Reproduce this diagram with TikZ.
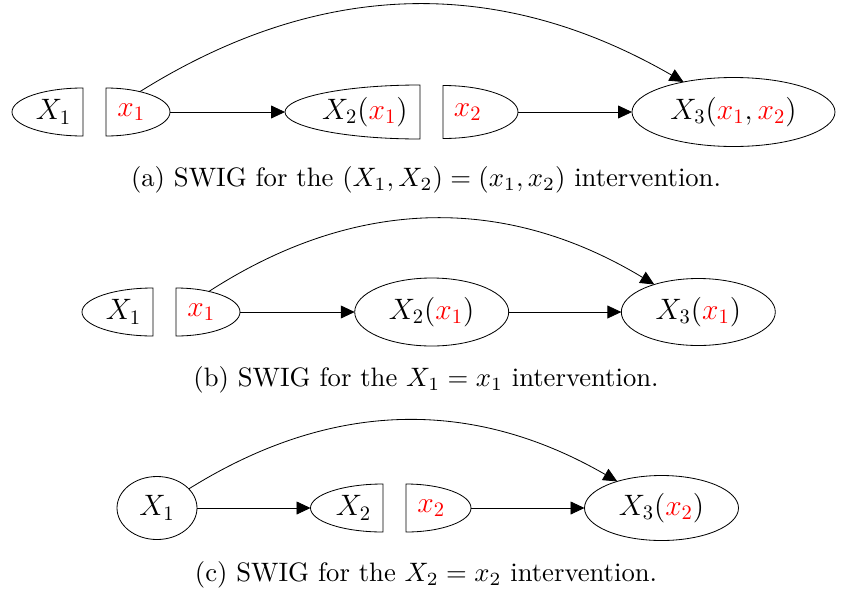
\documentclass[tikz,border=0pt]{standalone}
\usepackage{graphicx}
\usetikzlibrary{shapes.geometric,arrows.meta,calc}
\newcommand{\pxu}{0.4878pt}
% outline of a split node: half ellipse closed by the vertical cut
\newcommand{\cupleft}[1]{\draw let \p1=(#1.north), \p2=(#1.west), \p3=(#1.center) in
  (\p1) arc[start angle=90, end angle=270, x radius={\x3-\x2}, y radius={\y1-\y3}] -- cycle;}
\newcommand{\cupright}[1]{\draw let \p1=(#1.south), \p2=(#1.east), \p3=(#1.center) in
  (\p1) arc[start angle=-90, end angle=90, x radius={\x2-\x3}, y radius={\y3-\y1}] -- cycle;}
\newcommand{\captxt}[1]{\scalebox{1.3}{#1}}
\tikzset{
  varfont/.style={font=\fontsize{14.8}{17}\selectfont},
  full/.style={draw, ellipse, inner sep=0pt, outer sep=0pt, varfont},
  half/.style={ellipse, inner sep=0pt, outer sep=0pt},
  lefttxt/.style={varfont, inner sep=0pt, anchor=east},
  righttxt/.style={varfont, inner sep=0pt, anchor=west},
  arr/.style={-{Triangle[length=6.8pt,width=6.3pt]}},
  capt/.style={anchor=base, inner sep=0pt}
}
\begin{document}
\begin{tikzpicture}[x=\pxu, y=-\pxu]
\useasboundingbox (0,0) rectangle (841,591);

% (a) X1 = x1 and X2 = x2
\node[half, minimum width={142*\pxu}, minimum height={48*\pxu}] (Xa1) at (83,112) {};
\node[half, minimum width={128*\pxu}, minimum height={48*\pxu}] (xa1) at (106,112) {};
\node[half, minimum width={270*\pxu}, minimum height={54*\pxu}] (Xa2) at (420,112) {};
\node[half, minimum width={150*\pxu}, minimum height={53*\pxu}] (xa2) at (443,112) {};
\node[lefttxt]  (tXa1) at (71.5,112)  {$X_1$};
\node[righttxt] (txa1) at (117,112)   {$\textcolor{red}{x_1}$};
\node[lefttxt]  (tXa2) at (408,112)   {$X_2(\textcolor{red}{x_1})$};
\node[righttxt] (txa2) at (453.5,112) {$\textcolor{red}{x_2}$};
\node[full, minimum width={203*\pxu}, minimum height={69*\pxu}] (Xa3) at (733.5,112)
  {$X_3(\textcolor{red}{x_1},\textcolor{red}{x_2})$};
\cupleft{Xa1} \cupright{xa1} \cupleft{Xa2} \cupright{xa2}
\draw[arr] (xa1) -- (Xa2);
\draw[arr] (xa2) -- (Xa3);
\draw[arr] (xa1) to[bend left=31] (Xa3);
\node[capt] (capa) at (426,186)
  {\captxt{(a) SWIG for the $(X_1, X_2) = (x_1, x_2)$ intervention.}};

% (b) X1 = x1
\node[half, minimum width={142*\pxu}, minimum height={48*\pxu}] (Xb1) at (153,312) {};
\node[half, minimum width={128*\pxu}, minimum height={48*\pxu}] (xb1) at (176,312) {};
\node[lefttxt]  (tXb1) at (141.5,312) {$X_1$};
\node[righttxt] (txb1) at (187,312)   {$\textcolor{red}{x_1}$};
\node[full, minimum width={154*\pxu}, minimum height={68*\pxu}] (Xb2) at (431.7,312)
  {$X_2(\textcolor{red}{x_1})$};
\node[full, minimum width={154*\pxu}, minimum height={67*\pxu}] (Xb3) at (698.3,312)
  {$X_3(\textcolor{red}{x_1})$};
\cupleft{Xb1} \cupright{xb1}
\draw[arr] (xb1) -- (Xb2);
\draw[arr] (Xb2) -- (Xb3);
\draw[arr] (xb1) to[bend left=32] (Xb3);
\node[capt] (capb) at (426,386) {\captxt{(b) SWIG for the $X_1 = x_1$ intervention.}};

% (c) X2 = x2
\node[full, minimum width={80*\pxu}, minimum height={63*\pxu}] (Xc1) at (157,508) {$X_1$};
\node[half, minimum width={145*\pxu}, minimum height={48*\pxu}] (Xc2) at (383,508) {};
\node[half, minimum width={130*\pxu}, minimum height={48*\pxu}] (xc2) at (406,508) {};
\node[lefttxt]  (tXc2) at (371.5,508) {$X_2$};
\node[righttxt] (txc2) at (417,508)   {$\textcolor{red}{x_2}$};
\node[full, minimum width={154*\pxu}, minimum height={65*\pxu}] (Xc3) at (661.5,508)
  {$X_3(\textcolor{red}{x_2})$};
\cupleft{Xc2} \cupright{xc2}
\draw[arr] (Xc1) -- (Xc2);
\draw[arr] (xc2) -- (Xc3);
\draw[arr] (Xc1) to[bend left=31] (Xc3);
\node[capt] (capc) at (426,581) {\captxt{(c) SWIG for the $X_2 = x_2$ intervention.}};
\end{tikzpicture}
\end{document}
